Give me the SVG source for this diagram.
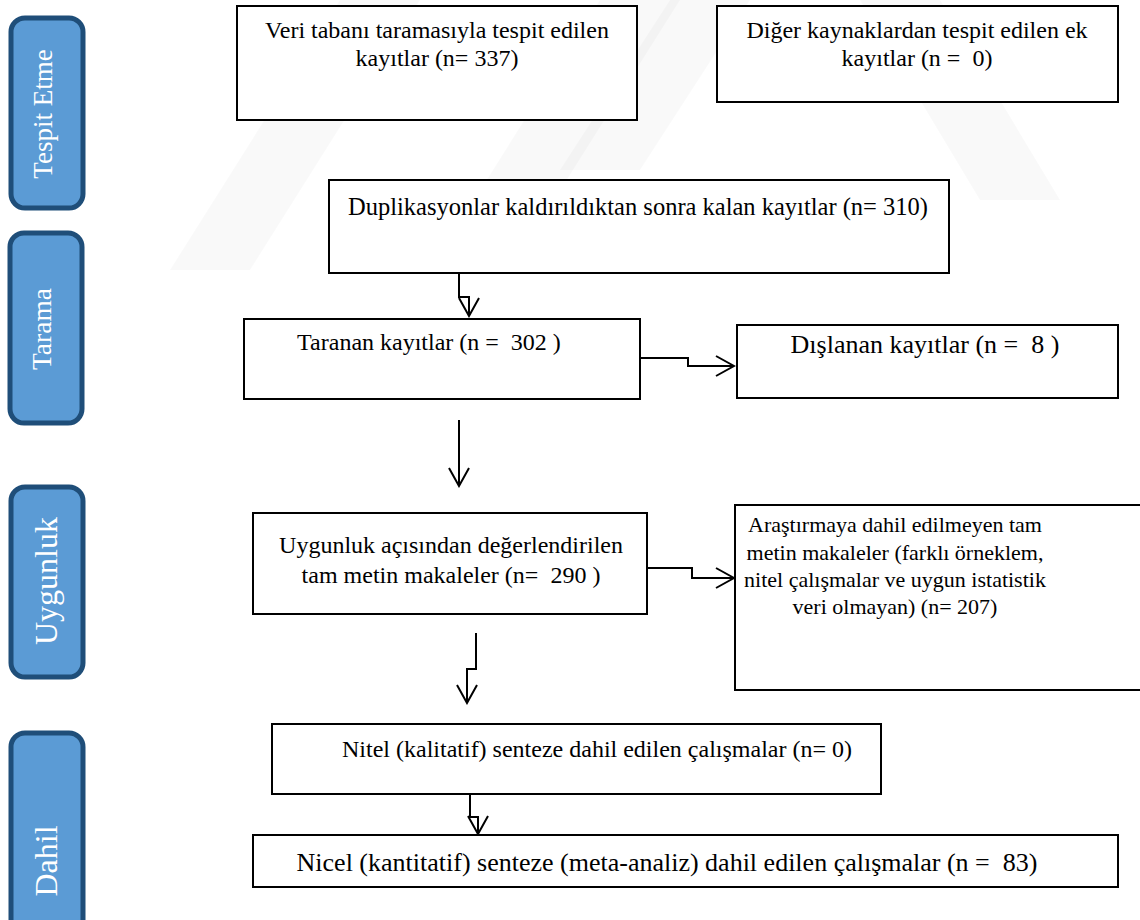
<svg xmlns="http://www.w3.org/2000/svg" width="1140" height="920" viewBox="0 0 1140 920">
<defs>
<style>
.bx{fill:#fff;stroke:#000;stroke-width:2}
.t{font-family:"Liberation Serif","Times New Roman",serif;font-size:24px;fill:#000;text-anchor:middle;white-space:pre}
.s22{font-size:22px}
.s245{font-size:24.5px}
.s26{font-size:26px}
.lb{fill:#5B9BD5;stroke:#1F4E79;stroke-width:5}
.lt{font-family:"Liberation Serif","Times New Roman",serif;fill:#fff;text-anchor:middle}
.c{fill:none;stroke:#000;stroke-width:2}
.wm{fill:#000;fill-opacity:0.022}
</style>
<marker id="ah" markerUnits="userSpaceOnUse" markerWidth="22" markerHeight="24" viewBox="0 0 22 24" refX="20" refY="12" orient="auto">
<path d="M2,2 L20,12 L2,22" fill="none" stroke="#000" stroke-width="2"/>
</marker>
</defs>
<rect width="1140" height="920" fill="#fff"/>
<g id="watermark">
<polygon class="wm" points="170,270 250,270 420,0 340,0"/>
<polygon class="wm" points="430,270 510,270 680,0 600,0"/>
<polygon class="wm" points="560,170 640,170 750,0 670,0"/>
<polygon class="wm" points="860,0 940,0 1060,200 980,200"/>
</g>
<g id="lbl-tespit"><rect class="lb" x="11" y="18" width="72" height="190" rx="14"/><text class="lt" font-size="27" transform="translate(52,114) rotate(-90)">Tespit Etme</text></g>
<g id="lbl-tarama"><rect class="lb" x="10" y="233" width="72" height="190" rx="14"/><text class="lt" font-size="27.5" transform="translate(51,329) rotate(-90)">Tarama</text></g>
<g id="lbl-uygunluk"><rect class="lb" x="11" y="487" width="72" height="190" rx="14"/><text class="lt" font-size="32" transform="translate(57,581) rotate(-90)">Uygunluk</text></g>
<g id="lbl-dahil"><rect class="lb" x="11" y="733" width="72" height="270" rx="14"/><text class="lt" font-size="32" transform="translate(57,861) rotate(-90)">Dahil</text></g>
<g id="n1"><rect class="bx" x="237" y="6" width="400" height="114"/><text class="t" x="437" y="38">Veri tabanı taramasıyla tespit edilen</text><text class="t" x="437" y="66">kayıtlar (n= 337)</text></g>
<g id="n2"><rect class="bx" x="717" y="6" width="401" height="96"/><text class="t" x="917" y="38">Diğer kaynaklardan tespit edilen ek</text><text class="t" x="917" y="66">kayıtlar (n =  0)</text></g>
<g id="n3"><rect class="bx" x="329" y="180" width="620" height="93"/><text class="t s245" x="638" y="215">Duplikasyonlar kaldırıldıktan sonra kalan kayıtlar (n= 310)</text></g>
<g id="n4"><rect class="bx" x="244" y="319" width="396" height="80"/><text class="t" x="429" y="350">Taranan kayıtlar (n =  302 )</text></g>
<g id="n5"><rect class="bx" x="737" y="325" width="381" height="73"/><text class="t s26" x="925" y="353">Dışlanan kayıtlar (n =  8 )</text></g>
<g id="n6"><rect class="bx" x="253" y="513" width="394" height="101"/><text class="t" x="451" y="553">Uygunluk açısından değerlendirilen</text><text class="t" x="451" y="583">tam metin makaleler (n=  290 )</text></g>
<g id="n7"><rect class="bx" x="735" y="505" width="410" height="185"/><text class="t s22" x="895" y="532">Araştırmaya dahil edilmeyen tam</text><text class="t s22" x="895" y="560">metin makaleler (farklı örneklem,</text><text class="t s22" x="895" y="587">nitel çalışmalar ve uygun istatistik</text><text class="t s22" x="895" y="614">veri olmayan) (n= 207)</text></g>
<g id="n8"><rect class="bx" x="272" y="724" width="609" height="70"/><text class="t" x="597" y="757">Nitel (kalitatif) senteze dahil edilen çalışmalar (n= 0)</text></g>
<g id="n9"><rect class="bx" x="253" y="835" width="865" height="52"/><text class="t s26" x="667" y="871">Nicel (kantitatif) senteze (meta-analiz) dahil edilen çalışmalar (n =  83)</text></g>
<g id="connectors">
<path class="c" d="M459,273 V297 H469 V316" marker-end="url(#ah)"/>
<path class="c" d="M640,358 H688 V366 H734" marker-end="url(#ah)"/>
<path class="c" d="M459,420 V486" marker-end="url(#ah)"/>
<path class="c" d="M647,568 H692 V578 H734" marker-end="url(#ah)"/>
<path class="c" d="M476,633 V669 H467 V703" marker-end="url(#ah)"/>
<path class="c" d="M470,794 V817 H478 V834" marker-end="url(#ah)"/>
</g>
</svg>
